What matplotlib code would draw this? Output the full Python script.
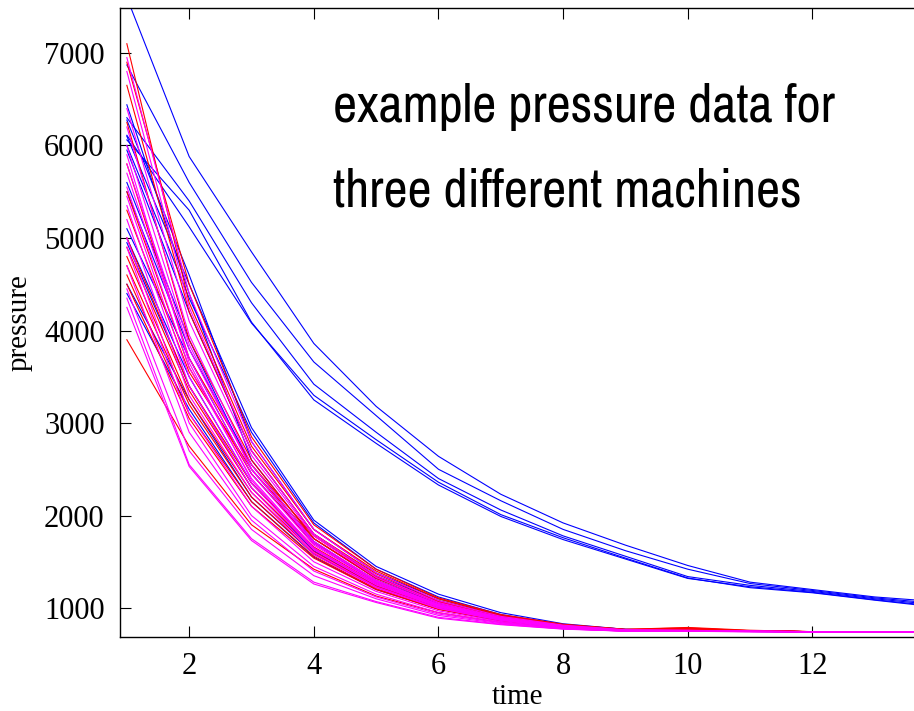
import matplotlib
matplotlib.use("Agg")
import matplotlib.pyplot as plt

# time axis (samples 1..14)
time = [1, 2, 3, 4, 5, 6, 7, 8, 9, 10, 11, 12, 13, 14]

# machine 1 (blue) - slow decaying runs
blue_slow = [
    [7600, 5880, 4850, 3860, 3180, 2640, 2230, 1920, 1680, 1460, 1280, 1200, 1120, 1070],
    [6870, 5600, 4520, 3660, 3080, 2500, 2160, 1850, 1620, 1420, 1265, 1190, 1110, 1050],
    [6300, 5400, 4300, 3420, 2900, 2400, 2060, 1780, 1560, 1340, 1245, 1180, 1100, 1035],
    [6060, 5300, 4090, 3250, 2780, 2330, 1990, 1740, 1530, 1320, 1230, 1170, 1090, 1020],
    [6110, 5120, 4080, 3300, 2820, 2360, 2010, 1760, 1540, 1325, 1220, 1165, 1085, 1010],
]

# machine 1 (blue) - fast decaying runs
blue_fast = [
    [6100, 4500, 2950, 1950, 1450, 1150, 950, 830, 770, 760, 750, 745, 745, 745],
    [6000, 4350, 2900, 1920, 1420, 1120, 930, 820, 770, 755, 750, 745, 745, 745],
    [5950, 4200, 2700, 1800, 1350, 1080, 910, 810, 765, 755, 750, 745, 745, 745],
    [6440, 4400, 2600, 1750, 1320, 1060, 900, 800, 760, 755, 750, 745, 745, 745],
    [6275, 4600, 2800, 1850, 1380, 1100, 920, 815, 765, 755, 750, 745, 745, 745],
    [5100, 3700, 2450, 1700, 1300, 1050, 890, 800, 760, 752, 748, 745, 745, 745],
    [4500, 3250, 2200, 1580, 1230, 1010, 870, 790, 758, 750, 748, 745, 745, 745],
    [4400, 3150, 2150, 1550, 1200, 990, 860, 785, 755, 750, 747, 745, 745, 745],
    [5000, 3500, 2350, 1650, 1260, 1030, 880, 795, 758, 752, 748, 745, 745, 745],
    [5600, 3900, 2500, 1700, 1280, 1040, 885, 800, 760, 752, 748, 745, 745, 745],
    [5500, 3800, 2550, 1720, 1290, 1045, 890, 800, 760, 752, 748, 745, 745, 745],
    [4950, 3400, 2300, 1620, 1240, 1020, 875, 790, 757, 750, 747, 745, 745, 745],
]

# machine 2 (red)
red_runs = [
    [7100, 4300, 2750, 1850, 1400, 1100, 920, 820, 770, 790, 760, 745, 745, 745],
    [6650, 4200, 2700, 1800, 1370, 1080, 910, 815, 765, 780, 755, 745, 745, 745],
    [6250, 3900, 2600, 1750, 1330, 1060, 900, 810, 762, 775, 752, 745, 745, 745],
    [5500, 3600, 2450, 1700, 1300, 1040, 890, 805, 760, 770, 750, 745, 745, 745],
    [4900, 3350, 2300, 1640, 1260, 1020, 880, 800, 758, 770, 750, 745, 745, 745],
    [4800, 3250, 2250, 1610, 1240, 1010, 875, 795, 757, 765, 750, 745, 745, 745],
    [4700, 3200, 2200, 1590, 1230, 1000, 870, 792, 756, 765, 750, 745, 745, 745],
    [4600, 3100, 2150, 1560, 1210, 990, 865, 790, 755, 760, 748, 745, 745, 745],
    [4500, 3050, 2100, 1540, 1200, 985, 862, 788, 755, 760, 748, 745, 745, 745],
    [3900, 2750, 1900, 1420, 1130, 950, 845, 780, 752, 755, 747, 745, 745, 745],
    [5300, 3550, 2500, 1750, 1320, 1060, 895, 808, 760, 770, 750, 745, 745, 745],
    [5800, 3700, 2550, 1780, 1340, 1070, 900, 810, 762, 775, 752, 745, 745, 745],
    [6900, 4500, 2850, 1900, 1420, 1110, 930, 825, 770, 785, 755, 745, 745, 745],
    [5000, 3400, 2350, 1660, 1270, 1025, 882, 800, 758, 768, 750, 745, 745, 745],
]

# machine 3 (magenta)
magenta_runs = [
    [6950, 4400, 2800, 1850, 1380, 1080, 910, 815, 765, 760, 750, 745, 745, 745],
    [6800, 4250, 2700, 1800, 1350, 1060, 900, 810, 762, 758, 750, 745, 745, 745],
    [6400, 4100, 2650, 1780, 1330, 1050, 895, 805, 760, 757, 748, 745, 745, 745],
    [5800, 3800, 2500, 1700, 1290, 1030, 885, 800, 758, 755, 748, 745, 745, 745],
    [5700, 3700, 2450, 1680, 1280, 1025, 882, 798, 757, 755, 748, 745, 745, 745],
    [5550, 3600, 2400, 1650, 1260, 1015, 878, 795, 756, 754, 747, 745, 745, 745],
    [5450, 3500, 2350, 1630, 1250, 1010, 875, 792, 755, 753, 747, 745, 745, 745],
    [5350, 3400, 2300, 1600, 1230, 1000, 870, 790, 755, 752, 747, 745, 745, 745],
    [4350, 2550, 1750, 1280, 1070, 900, 825, 775, 750, 748, 745, 742, 742, 742],
    [4250, 2530, 1730, 1260, 1060, 890, 820, 772, 750, 748, 745, 742, 742, 742],
    [4900, 3000, 2000, 1450, 1150, 950, 845, 780, 752, 750, 746, 743, 743, 743],
    [5000, 3100, 2100, 1500, 1180, 970, 855, 785, 753, 750, 746, 743, 743, 743],
    [6200, 3950, 2550, 1720, 1300, 1040, 890, 802, 759, 756, 748, 745, 745, 745],
    [6000, 3850, 2500, 1700, 1295, 1035, 888, 800, 758, 755, 748, 745, 745, 745],
    [5200, 3300, 2250, 1580, 1220, 995, 866, 788, 754, 751, 747, 744, 744, 744],
    [4700, 2900, 1950, 1400, 1120, 935, 840, 778, 751, 749, 746, 743, 743, 743],
    [5900, 3650, 2380, 1640, 1270, 1020, 880, 797, 756, 754, 747, 745, 745, 745],
    [4450, 2700, 1850, 1350, 1100, 920, 832, 776, 751, 749, 745, 742, 742, 742],
]

fig = plt.figure(figsize=(9.14, 7.11), dpi=100)
ax = fig.add_axes([120 / 914, 74 / 711, 1 - 120 / 914, 629 / 711])

for run in blue_slow + blue_fast:
    ax.plot(time, run, color='#0000ff', lw=0.8)
for run in red_runs:
    ax.plot(time, run, color='#ff0000', lw=0.8)
for run in magenta_runs:
    ax.plot(time, run, color='#ff00ff', lw=0.8)

ax.set_xlim(0.89, 13.63)
ax.set_ylim(687, 7486)
ax.set_xticks([2, 4, 6, 8, 10, 12])
ax.set_yticks([1000, 2000, 3000, 4000, 5000, 6000, 7000])

serif = 'Liberation Serif'
for lab in ax.get_xticklabels() + ax.get_yticklabels():
    lab.set_fontfamily(serif)
    lab.set_fontsize(22)

ax.tick_params(direction='in', length=8, width=0.8, top=True, right=False)
ax.tick_params(axis='x', pad=11)
ax.tick_params(axis='y', pad=11)
ax.spines['right'].set_visible(False)
for s in ['left', 'bottom', 'top']:
    ax.spines[s].set_linewidth(1.0)

ax.set_xlabel('time', fontfamily=serif, fontsize=21, labelpad=2)
ax.set_ylabel('pressure', fontfamily=serif, fontsize=21, labelpad=8)

ax.text(333 / 914, 1 - 83 / 711, 'example pressure data for\nthree different machines',
        transform=fig.transFigure, fontsize=38, va='top', ha='left',
        family=['Archivo Narrow', 'Liberation Sans'], linespacing=1.94)

fig.savefig('out.png', dpi=100)
